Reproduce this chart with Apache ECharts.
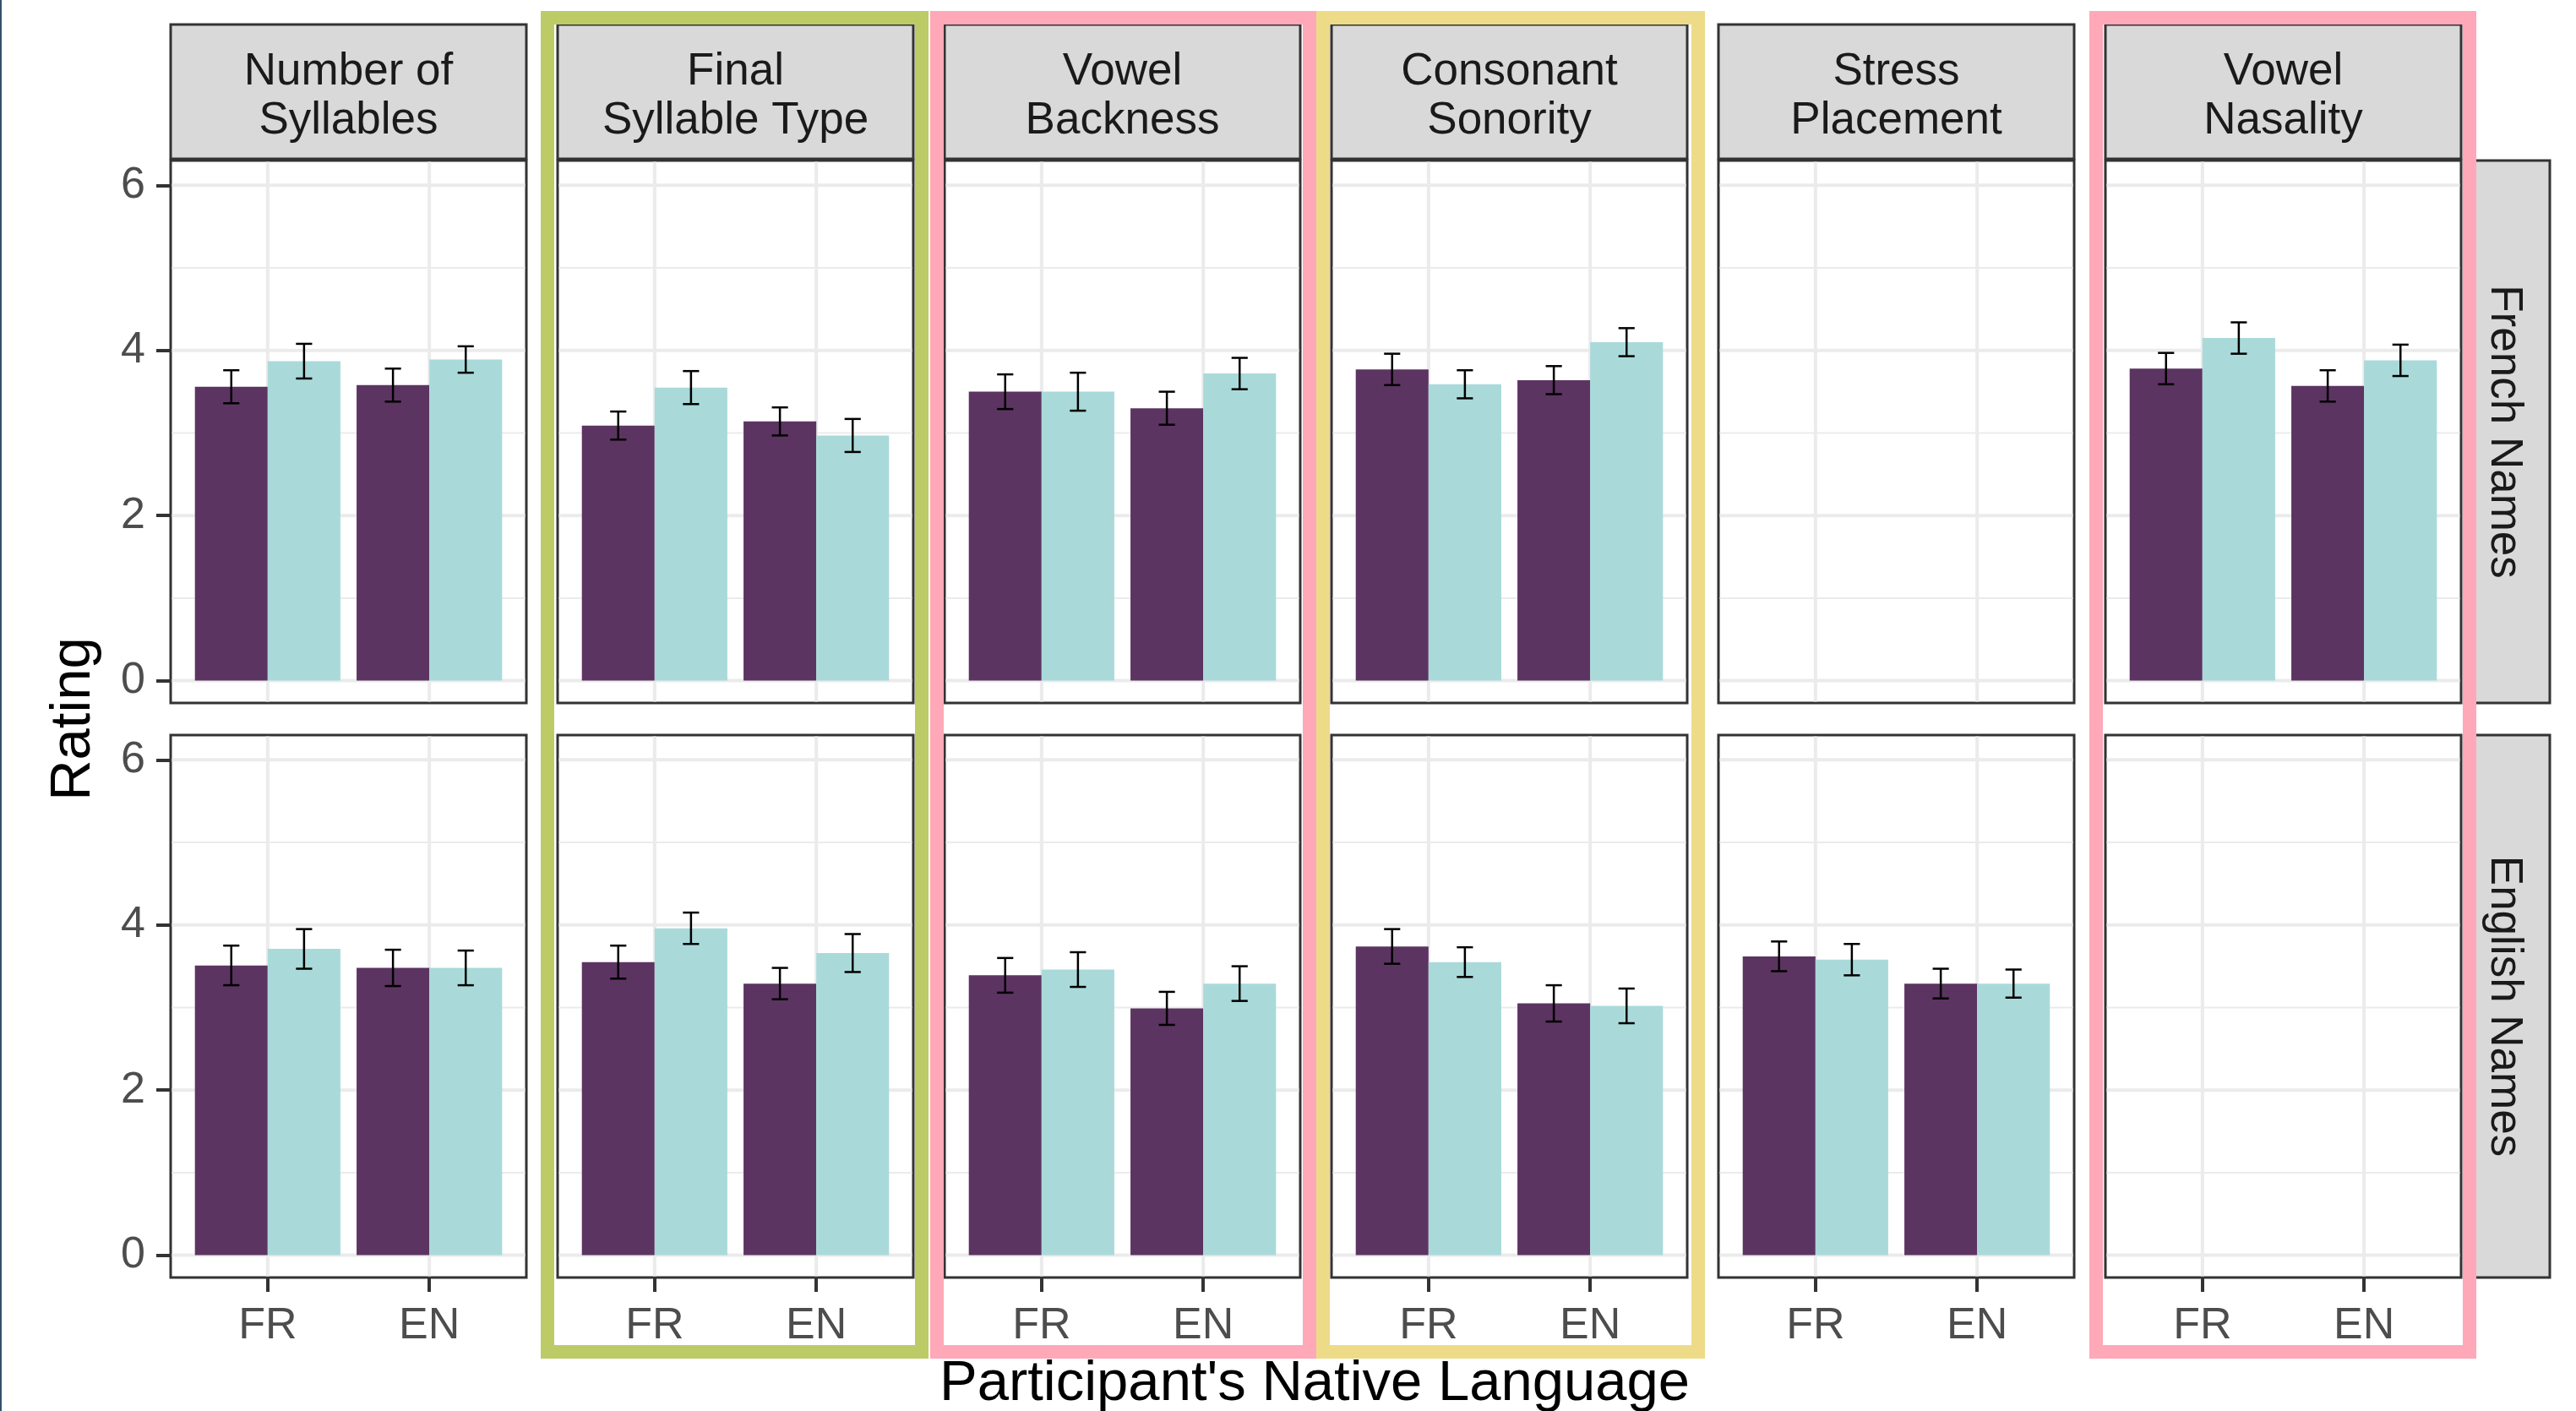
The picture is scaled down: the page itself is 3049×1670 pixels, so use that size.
<!DOCTYPE html>
<html>

<head>
    <meta charset="utf-8">
    <script src="https://cdn.jsdelivr.net/npm/echarts@6/dist/echarts.min.js"></script>
    <style>
        * {
            padding: 0;
            margin: 0
        }

        body,
        html {
            height: 100%;
            width: 100%;
            background: #fff
        }

        #container {
            height: 1670px;
            width: 3049px
        }
    </style>
</head>

<body>
    <div id="container"></div>
</body>
<script>
    // ---- data ----
    const languages = ['FR', 'EN'];
    const facetLabels = ['Number of\nSyllables', 'Final\nSyllable Type', 'Vowel\nBackness',
        'Consonant\nSonority', 'Stress\nPlacement', 'Vowel\nNasality'];
    const rowLabels = ['French Names', 'English Names'];

    // mean rating per facet, order: FR purple, FR teal, EN purple, EN teal (null = not tested)
    const frenchNamesMean = [
        [3.56, 3.87, 3.58, 3.89],
        [3.09, 3.55, 3.14, 2.97],
        [3.50, 3.50, 3.30, 3.72],
        [3.77, 3.59, 3.64, 4.10],
        null,
        [3.78, 4.15, 3.57, 3.88]
    ];
    const frenchNamesSE = [
        [0.20, 0.21, 0.20, 0.16],
        [0.17, 0.20, 0.17, 0.20],
        [0.21, 0.23, 0.20, 0.19],
        [0.19, 0.17, 0.17, 0.17],
        null,
        [0.19, 0.19, 0.19, 0.19]
    ];
    const englishNamesMean = [
        [3.51, 3.71, 3.48, 3.48],
        [3.55, 3.96, 3.29, 3.66],
        [3.39, 3.46, 2.99, 3.29],
        [3.74, 3.55, 3.05, 3.02],
        [3.62, 3.58, 3.29, 3.29],
        null
    ];
    const englishNamesSE = [
        [0.24, 0.24, 0.22, 0.21],
        [0.20, 0.19, 0.19, 0.23],
        [0.21, 0.21, 0.20, 0.21],
        [0.21, 0.18, 0.22, 0.21],
        [0.18, 0.19, 0.18, 0.17],
        null
    ];
    const ratingTicks = [0, 2, 4, 6];
    const ratingMinor = [1, 3, 5];

    // ---- look ----
    const fillColors = ['#5C3461', '#A9DAD9'];
    const FONT = '"Liberation Sans", Arial, sans-serif';
    const panelLeft0 = 202, panelStep = 458, panelW = 421, panelH = 642;
    const rowTop = [190, 870];
    const stripTop = 29, stripH = 159;
    const rightStripX = 2921, rightStripW = 97;
    const barHalf = 0.225, capHalf = 0.05;

    const container = document.getElementById('container');
    let myChart = echarts.init(container, null, { renderer: 'canvas' });

    function renderGridLine(params, api) {
        const cs = params.coordSys;
        const kind = api.value(0); // 0 major h, 1 minor h, 2 vertical
        const v = api.value(1);
        if (kind === 2) {
            const p = api.coord([v, 0]);
            return {
                type: 'line',
                shape: { x1: p[0], y1: cs.y + 1.5, x2: p[0], y2: cs.y + cs.height - 1.5 },
                style: { stroke: '#EBEBEB', lineWidth: 4 }
            };
        }
        const p = api.coord([1, v]);
        return {
            type: 'line',
            shape: { x1: cs.x + 1.5, y1: p[1], x2: cs.x + cs.width - 1.5, y2: p[1] },
            style: { stroke: '#EBEBEB', lineWidth: kind === 0 ? 4 : 2 }
        };
    }

    function renderBar(params, api) {
        const x = api.value(0), m = api.value(1), se = api.value(2), g = api.value(3);
        const tl = api.coord([x - barHalf, m]);
        const br = api.coord([x + barHalf, 0]);
        const hi = api.coord([x, m + se]);
        const lo = api.coord([x, m - se]);
        const cl = api.coord([x - capHalf, m])[0];
        const cr = api.coord([x + capHalf, m])[0];
        const es = { stroke: '#000', lineWidth: 2.5 };
        return {
            type: 'group',
            children: [
                { type: 'rect', shape: { x: tl[0], y: tl[1], width: br[0] - tl[0], height: br[1] - tl[1] }, style: { fill: fillColors[g] } },
                { type: 'line', shape: { x1: hi[0], y1: hi[1], x2: lo[0], y2: lo[1] }, style: es },
                { type: 'line', shape: { x1: cl, y1: hi[1], x2: cr, y2: hi[1] }, style: es },
                { type: 'line', shape: { x1: cl, y1: lo[1], x2: cr, y2: lo[1] }, style: es }
            ]
        };
    }

    const gridLineData = [];
    ratingTicks.forEach(v => gridLineData.push([0, v]));
    ratingMinor.forEach(v => gridLineData.push([1, v]));
    languages.forEach((l, i) => gridLineData.push([2, i + 1]));

    const grids = [], xAxes = [], yAxes = [], series = [], graphics = [];
    const means = [frenchNamesMean, englishNamesMean];
    const ses = [frenchNamesSE, englishNamesSE];

    for (let r = 0; r < 2; r++) {
        for (let c = 0; c < facetLabels.length; c++) {
            const k = r * facetLabels.length + c;
            grids.push({
                left: panelLeft0 + c * panelStep, top: rowTop[r], width: panelW, height: panelH,
                show: true, backgroundColor: '#fff', borderColor: '#333333', borderWidth: 3,
                containLabel: false, outerBoundsMode: 'none'
            });
            const bottomRow = r === 1;
            xAxes.push({
                type: 'value', gridIndex: k, min: 0.4, max: 2.6,
                axisLine: { show: false, onZero: false },
                splitLine: { show: false },
                axisTick: { show: bottomRow, customValues: [1, 2], length: 17, lineStyle: { color: '#333333', width: 4 } },
                axisLabel: {
                    show: bottomRow, customValues: [1, 2], margin: 32,
                    formatter: v => languages[Math.round(v) - 1],
                    fontSize: 52, color: '#4D4D4D', fontFamily: FONT
                }
            });
            yAxes.push({
                type: 'value', gridIndex: k, min: -0.27, max: 6.3,
                axisLine: { show: false, onZero: false },
                splitLine: { show: false },
                axisTick: { show: c === 0, customValues: ratingTicks, length: 17, lineStyle: { color: '#333333', width: 4 } },
                axisLabel: {
                    show: c === 0, customValues: ratingTicks, margin: 30,
                    fontSize: 52, color: '#4D4D4D', fontFamily: FONT
                }
            });
            series.push({
                type: 'custom', xAxisIndex: k, yAxisIndex: k, z: 1, silent: true,
                renderItem: renderGridLine, data: gridLineData
            });
            const m = means[r][c], s = ses[r][c];
            if (m) {
                const barData = [];
                languages.forEach((lang, li) => {
                    for (let g = 0; g < 2; g++) {
                        const idx = li * 2 + g;
                        barData.push([li + 1 - barHalf + g * 2 * barHalf, m[idx], s[idx], g]);
                    }
                });
                series.push({
                    type: 'custom', xAxisIndex: k, yAxisIndex: k, z: 2, silent: true,
                    renderItem: renderBar, data: barData, encode: { x: 0, y: 1 }
                });
            }
        }
    }

    // facet strips on top
    facetLabels.forEach((lab, c) => {
        const x = panelLeft0 + c * panelStep;
        graphics.push({
            type: 'rect', shape: { x: x, y: stripTop, width: panelW, height: stripH },
            style: { fill: '#D9D9D9', stroke: '#333333', lineWidth: 3 }, z: 10
        });
        graphics.push({
            type: 'text', x: x + panelW / 2, y: stripTop + stripH / 2 + 6, z: 11,
            style: { text: lab, fontSize: 53, lineHeight: 58, fill: '#1A1A1A', fontFamily: FONT, align: 'center', verticalAlign: 'middle' }
        });
    });
    // row strips on the right
    rowLabels.forEach((lab, r) => {
        graphics.push({
            type: 'rect', shape: { x: rightStripX, y: rowTop[r], width: rightStripW, height: panelH },
            style: { fill: '#D9D9D9', stroke: '#333333', lineWidth: 3 }, z: 10
        });
        graphics.push({
            type: 'text', x: rightStripX + rightStripW / 2 - 6, y: rowTop[r] + panelH / 2, rotation: -Math.PI / 2, z: 11,
            style: { text: lab, fontSize: 53, fill: '#1A1A1A', fontFamily: FONT, align: 'center', verticalAlign: 'middle' }
        });
    });
    // axis titles
    graphics.push({
        type: 'text', x: 88, y: 851, rotation: Math.PI / 2, z: 11,
        style: { text: 'Rating', fontSize: 67, fill: '#000', fontFamily: FONT, align: 'center', verticalAlign: 'middle' }
    });
    graphics.push({
        type: 'text', x: 1556, y: 1639, z: 11,
        style: { text: "Participant's Native Language", fontSize: 67, fill: '#000', fontFamily: FONT, align: 'center', verticalAlign: 'middle' }
    });
    // highlight boxes drawn over the figure (offset/width relative to the panel column)
    const highlights = [
        { col: 1, dx: -12, w: 443, color: '#BDCB67' },
        { col: 2, dx: -9, w: 441, color: '#FFA8B8' },
        { col: 3, dx: -10, w: 444, color: '#EDDB88' },
        { col: 5, dx: -11, w: 442, color: '#FFA8B8' }
    ];
    highlights.forEach(h => {
        const x = panelLeft0 + h.col * panelStep + h.dx;
        graphics.push({
            type: 'rect', shape: { x: x, y: 21, width: h.w, height: 1579 },
            style: { fill: null, stroke: h.color, lineWidth: 16 }, z: 20
        });
    });
    // left frame edge
    graphics.push({ type: 'rect', shape: { x: 0, y: 0, width: 2, height: 1670 }, style: { fill: '#34506E' }, z: 20 });

    myChart.setOption({
        animation: false,
        backgroundColor: '#fff',
        grid: grids,
        xAxis: xAxes,
        yAxis: yAxes,
        series: series,
        graphic: { elements: graphics }
    });
</script>

</html>
